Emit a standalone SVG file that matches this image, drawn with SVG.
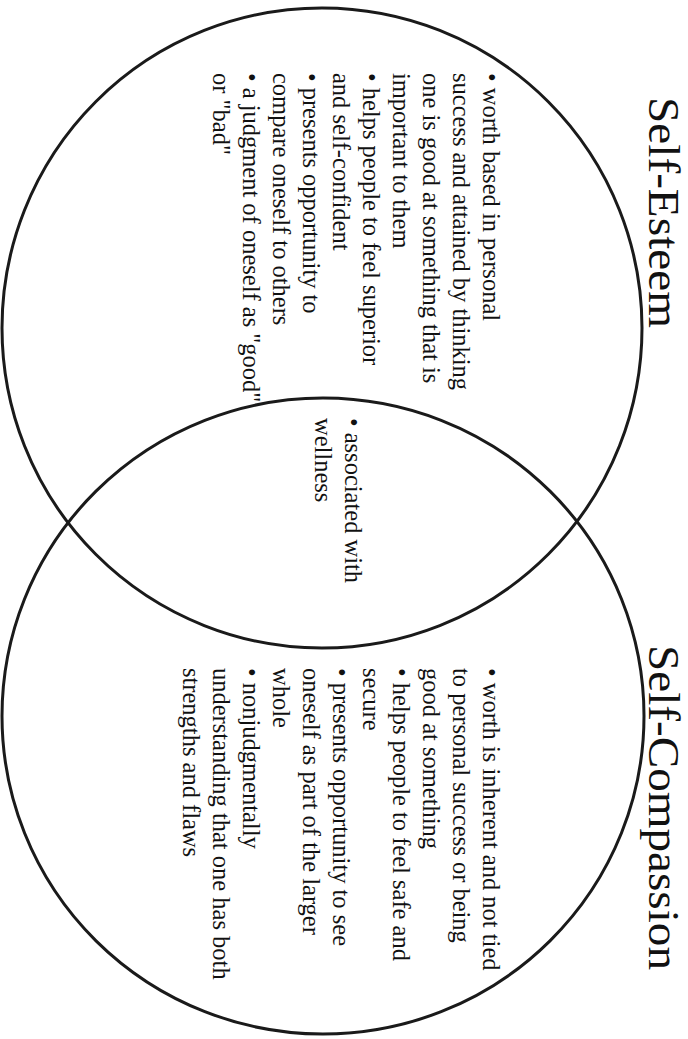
<svg xmlns="http://www.w3.org/2000/svg" width="688" height="1039" viewBox="0 0 688 1039">
<style>
.ring{fill:none;stroke:#1a1a1a;stroke-width:3}
.t{font-family:"Liberation Serif","Times New Roman",serif;font-size:24.5px;fill:#111}
.h{font-family:"Liberation Serif","Times New Roman",serif;font-size:45px;fill:#111}
</style>
<rect width="688" height="1039" fill="#fff"/>
<g id="connectors"></g>
<g id="self-esteem">
<ellipse class="ring" cx="322" cy="328" rx="320" ry="320"/>
<text class="h" transform="translate(649,97) rotate(90)" textLength="231" lengthAdjust="spacingAndGlyphs">Self-Esteem</text>
<g transform="translate(0,73)">
<text class="t" transform="translate(483,0) rotate(90)">• worth based in personal</text>
<text class="t" transform="translate(453,0) rotate(90)">success and attained by thinking</text>
<text class="t" transform="translate(423,0) rotate(90)">one is good at something that is</text>
<text class="t" transform="translate(393,0) rotate(90)">important to them</text>
<text class="t" transform="translate(363,0) rotate(90)">• helps people to feel superior</text>
<text class="t" transform="translate(333,0) rotate(90)">and self-confident</text>
<text class="t" transform="translate(303,0) rotate(90)">• presents opportunity to</text>
<text class="t" transform="translate(273,0) rotate(90)">compare oneself to others</text>
<text class="t" transform="translate(243,0) rotate(90)">• a judgment of oneself as "good"</text>
<text class="t" transform="translate(213,0) rotate(90)">or "bad"</text>
</g>
</g>
<g id="self-compassion">
<ellipse class="ring" cx="323" cy="716" rx="321" ry="318"/>
<text class="h" transform="translate(649,645) rotate(90)" textLength="325" lengthAdjust="spacingAndGlyphs">Self-Compassion</text>
<g transform="translate(0,668)">
<text class="t" transform="translate(483,0) rotate(90)">• worth is inherent and not tied</text>
<text class="t" transform="translate(453,0) rotate(90)">to personal success or being</text>
<text class="t" transform="translate(423,0) rotate(90)">good at something</text>
<text class="t" transform="translate(393,0) rotate(90)">• helps people to feel safe and</text>
<text class="t" transform="translate(363,0) rotate(90)">secure</text>
<text class="t" transform="translate(333,0) rotate(90)">• presents opportunity to see</text>
<text class="t" transform="translate(303,0) rotate(90)">oneself as part of the larger</text>
<text class="t" transform="translate(273,0) rotate(90)">whole</text>
<text class="t" transform="translate(243,0) rotate(90)">• nonjudgmentally</text>
<text class="t" transform="translate(213,0) rotate(90)">understanding that one has both</text>
<text class="t" transform="translate(183,0) rotate(90)">strengths and flaws</text>
</g>
</g>
<g id="shared">
<text class="t" transform="translate(345,418) rotate(90)">• associated with</text>
<text class="t" transform="translate(315,418) rotate(90)">wellness</text>
</g>
</svg>
